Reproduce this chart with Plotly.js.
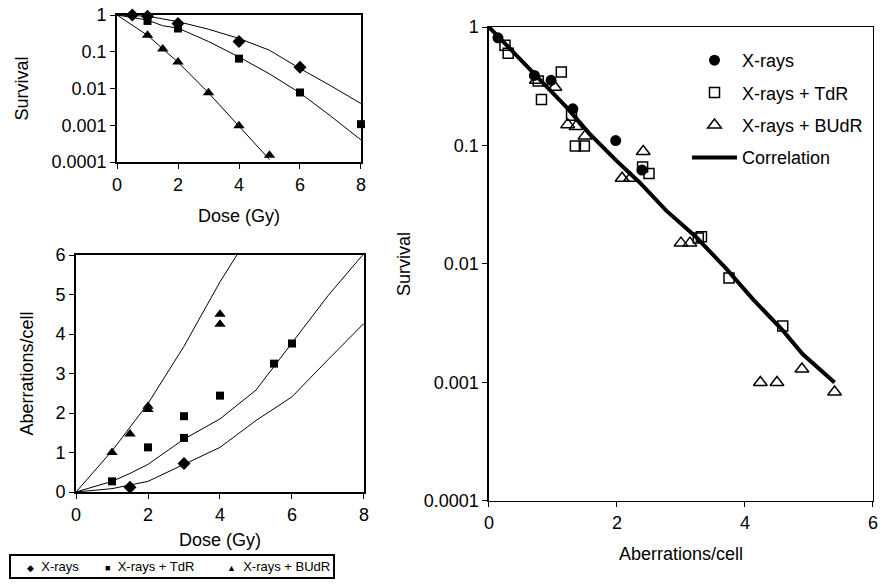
<!DOCTYPE html>
<html>
<head>
<meta charset="utf-8">
<script src="https://cdn.plot.ly/plotly-3.0.1.min.js"></script>
<style>html,body{margin:0;padding:0;background:#fff;}#chart{width:886px;height:586px;}</style>
</head>
<body>
<div id="chart"></div>
<script>
// ---- Top-left panel: survival vs dose ----
var tlXrDose = [0.5, 1, 2, 4, 6];
var tlXrSurv = [1.0, 0.92, 0.59, 0.19, 0.038];
var tlTdrDose = [1, 2, 4, 6, 8];
var tlTdrSurv = [0.69, 0.43, 0.065, 0.0078, 0.00107];
var tlBudrDose = [1, 1.5, 2, 3, 4, 5];
var tlBudrSurv = [0.28, 0.118, 0.053, 0.0077, 0.00097, 0.000153];
var tlFitXrDose = [0, 1, 2, 3, 4, 5, 6, 7, 8];
var tlFitXrSurv = [1, 0.93, 0.66, 0.41, 0.23, 0.11, 0.035, 0.012, 0.0039];
var tlFitTdrDose = [0, 1, 1.5, 2, 3, 4, 5, 6, 7, 8];
var tlFitTdrSurv = [1, 0.73, 0.51, 0.44, 0.19, 0.072, 0.025, 0.0076, 0.0018, 0.0004];
var tlFitBudrDose = [0, 1, 1.5, 2, 3, 4, 5];
var tlFitBudrSurv = [1, 0.28, 0.12, 0.052, 0.0076, 0.00095, 0.000117];

// ---- Bottom-left panel: aberrations vs dose ----
var blXrDose = [1.5, 3];
var blXrAb = [0.12, 0.72];
var blTdrDose = [1, 2, 3, 3, 4, 5.5, 6];
var blTdrAb = [0.27, 1.13, 1.92, 1.37, 2.44, 3.25, 3.76];
var blBudrDose = [1, 1.5, 2, 2, 4, 4];
var blBudrAb = [1.0, 1.47, 2.17, 2.09, 4.5, 4.25];
var blFitXrDose = [0, 1, 2, 3, 4, 5, 6, 7, 8];
var blFitXrAb = [0, 0.085, 0.27, 0.70, 1.13, 1.81, 2.41, 3.35, 4.27];
var blFitTdrDose = [0, 1, 1.5, 2, 3, 4, 5, 6, 7, 8];
var blFitTdrAb = [0, 0.27, 0.47, 0.70, 1.34, 1.85, 2.58, 3.78, 4.97, 6.04];
var blFitBudrDose = [0, 1, 2, 3, 4, 4.47];
var blFitBudrAb = [0, 1.04, 2.24, 3.69, 5.32, 6.0];

// ---- Right panel: survival vs aberrations/cell ----
var rXrAb = [0.14, 0.71, 0.97, 1.31, 1.98, 2.39];
var rXrSurv = [0.81, 0.39, 0.355, 0.204, 0.11, 0.062];
var rTdrAb = [0.25, 0.30, 0.77, 0.82, 1.13, 1.29, 1.35, 1.49, 2.40, 2.50, 3.27, 3.32, 3.75, 4.59];
var rTdrSurv = [0.70, 0.60, 0.35, 0.245, 0.417, 0.18, 0.099, 0.099, 0.066, 0.058, 0.0166, 0.017, 0.0076, 0.003];
var rBudrAb = [0.74, 1.03, 1.23, 1.36, 1.50, 2.08, 2.21, 2.41, 3.00, 3.14, 4.24, 4.50, 4.89, 5.40];
var rBudrSurv = [0.355, 0.31, 0.15, 0.145, 0.12, 0.053, 0.053, 0.089, 0.015, 0.015, 0.001, 0.001, 0.0013, 0.00083];
var rCorrAb = [0, 0.69, 1.21, 1.57, 1.99, 2.35, 2.77, 3.24, 3.71, 4.13, 4.59, 4.90, 5.40];
var rCorrSurv = [1, 0.417, 0.211, 0.126, 0.0746, 0.049, 0.0282, 0.0168, 0.0091, 0.005, 0.00275, 0.00174, 0.001];

var seriesNames = ['X-rays', 'X-rays + TdR', 'X-rays + BUdR', 'Correlation'];
var logTickVals = [1, 0.1, 0.01, 0.001, 0.0001];
var logTickText = ['1', '0.1', '0.01', '0.001', '0.0001'];

var FONT = 'Liberation Sans, Arial, sans-serif';

function fitLine(x, y, xa, ya) {
  return {x: x, y: y, xaxis: xa, yaxis: ya, mode: 'lines', showlegend: false,
          line: {color: '#000', width: 1}, hoverinfo: 'skip'};
}
function pts(x, y, xa, ya, sym, size, name) {
  return {x: x, y: y, xaxis: xa, yaxis: ya, mode: 'markers', name: name, showlegend: false,
          cliponaxis: false, marker: {symbol: sym, size: size, color: '#000'}};
}

var data = [
  fitLine(tlFitXrDose, tlFitXrSurv, 'x', 'y'),
  fitLine(tlFitTdrDose, tlFitTdrSurv, 'x', 'y'),
  fitLine(tlFitBudrDose, tlFitBudrSurv, 'x', 'y'),
  pts(tlXrDose, tlXrSurv, 'x', 'y', 'diamond', 10, seriesNames[0]),
  pts(tlTdrDose, tlTdrSurv, 'x', 'y', 'square', 8, seriesNames[1]),
  pts(tlBudrDose, tlBudrSurv, 'x', 'y', 'triangle-up', 10, seriesNames[2]),

  fitLine(blFitXrDose, blFitXrAb, 'x2', 'y2'),
  fitLine(blFitTdrDose, blFitTdrAb, 'x2', 'y2'),
  fitLine(blFitBudrDose, blFitBudrAb, 'x2', 'y2'),
  pts(blXrDose, blXrAb, 'x2', 'y2', 'diamond', 10, seriesNames[0]),
  pts(blTdrDose, blTdrAb, 'x2', 'y2', 'square', 8, seriesNames[1]),
  pts(blBudrDose, blBudrAb, 'x2', 'y2', 'triangle-up', 10, seriesNames[2]),

  {x: rCorrAb, y: rCorrSurv, xaxis: 'x3', yaxis: 'y3', mode: 'lines', name: seriesNames[3],
   legendrank: 4, legendgroup: 'g4', line: {color: '#000', width: 4}},
  {x: rXrAb, y: rXrSurv, xaxis: 'x3', yaxis: 'y3', mode: 'markers', name: seriesNames[0],
   legendrank: 1, legendgroup: 'g1', cliponaxis: false,
   marker: {symbol: 'circle', size: 11, color: '#000'}},
  {x: rTdrAb, y: rTdrSurv, xaxis: 'x3', yaxis: 'y3', mode: 'markers', name: seriesNames[1],
   legendrank: 2, legendgroup: 'g2', cliponaxis: false,
   marker: {symbol: 'square-open', size: 10, color: '#000', line: {width: 1.5}}},
  {x: rBudrAb, y: rBudrSurv, xaxis: 'x3', yaxis: 'y3', mode: 'markers', name: seriesNames[2],
   legendrank: 3, legendgroup: 'g3', cliponaxis: false,
   marker: {symbol: 'triangle-up-open', size: 12, color: '#000', line: {width: 1.5}}}
];

function axisBase(extra) {
  var a = {showgrid: false, zeroline: false, showline: true, linecolor: '#000', linewidth: 2,
           mirror: true, ticks: 'outside', ticklen: 5, tickwidth: 1, tickcolor: '#000',
           tickfont: {family: FONT, size: 18, color: '#000'}, fixedrange: true};
  for (var k in extra) a[k] = extra[k];
  return a;
}
function ttl(t, standoff) {
  return {text: t, font: {family: FONT, size: 18, color: '#000'}, standoff: standoff};
}

var layout = {
  width: 886, height: 586,
  margin: {l: 0, r: 0, t: 0, b: 0},
  paper_bgcolor: '#fff', plot_bgcolor: '#fff',
  font: {family: FONT, color: '#000'},
  showlegend: true,
  xaxis: axisBase({domain: [0.1321, 0.4074], range: [0, 8], tickvals: [0, 2, 4, 6, 8], anchor: 'y',
                   title: ttl('Dose (Gy)', 16)}),
  yaxis: axisBase({domain: [0.7235, 0.9744], type: 'log', range: [-4, 0], tickvals: logTickVals,
                   ticktext: logTickText, anchor: 'x', title: ttl('Survival', 18)}),
  xaxis2: axisBase({domain: [0.0858, 0.4108], range: [0, 8], tickvals: [0, 2, 4, 6, 8], anchor: 'y2',
                    title: ttl('Dose (Gy)', 10)}),
  yaxis2: axisBase({domain: [0.1604, 0.5648], range: [0, 6], tickvals: [0, 1, 2, 3, 4, 5, 6], anchor: 'x2',
                    title: ttl('Aberrations/cell', 17)}),
  xaxis3: axisBase({domain: [0.5519, 0.9853], range: [0, 6], tickvals: [0, 2, 4, 6], anchor: 'y3',
                    linewidth: 1.5, title: ttl('Aberrations/cell', 15)}),
  yaxis3: axisBase({domain: [0.1451, 0.9539], type: 'log', range: [-4, 0], tickvals: logTickVals,
                    ticktext: logTickText, anchor: 'x3', linewidth: 1.5, title: ttl('Survival', 8)}),
  legend: {x: 687/886, y: (586-42)/586, xanchor: 'left', yanchor: 'top', bgcolor: 'rgba(0,0,0,0)',
           borderwidth: 0, tracegroupgap: 6, itemwidth: 45,
           font: {family: FONT, size: 18, color: '#000'}},
  shapes: [
    {type: 'rect', xref: 'paper', yref: 'paper', x0: 10/886, x1: 334/886,
     y0: (586-578)/586, y1: (586-555)/586, line: {color: '#000', width: 2}}
  ],
  annotations: [
    {xref: 'paper', yref: 'paper', x: 25/886, y: (586-566.5)/586, xanchor: 'left', yanchor: 'middle',
     showarrow: false, text: '<span style="font-size:9px">◆</span>  ' + seriesNames[0],
     font: {family: FONT, size: 13, color: '#000'}},
    {xref: 'paper', yref: 'paper', x: 103/886, y: (586-566.5)/586, xanchor: 'left', yanchor: 'middle',
     showarrow: false, text: '<span style="font-size:9px">■</span>  ' + seriesNames[1],
     font: {family: FONT, size: 13, color: '#000'}},
    {xref: 'paper', yref: 'paper', x: 225/886, y: (586-566.5)/586, xanchor: 'left', yanchor: 'middle',
     showarrow: false, text: '<span style="font-size:9px">▲</span>  ' + seriesNames[2],
     font: {family: FONT, size: 13, color: '#000'}}
  ]
};

Plotly.newPlot('chart', data, layout, {staticPlot: true, displayModeBar: false});
</script>
</body>
</html>
